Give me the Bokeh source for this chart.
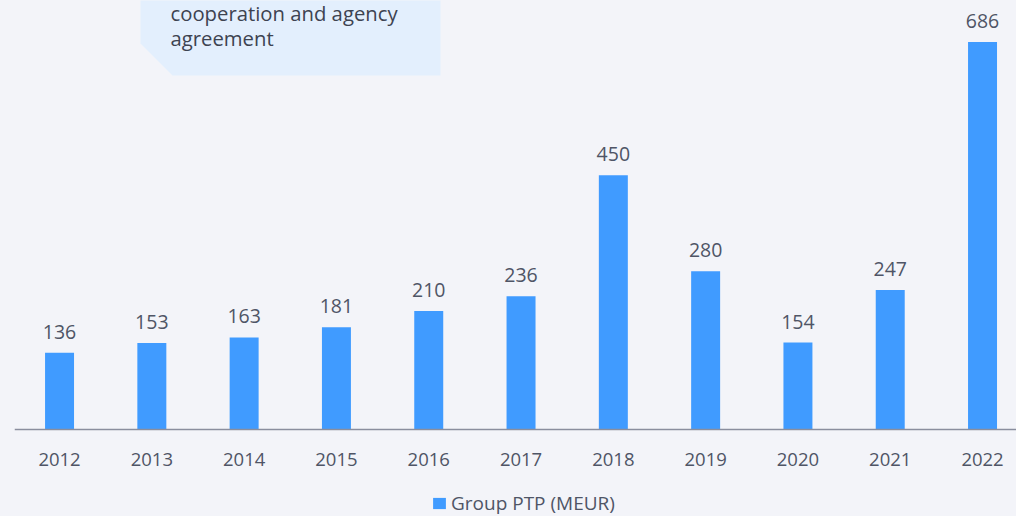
from bokeh.plotting import figure
from bokeh.models import (ColumnDataSource, Legend, LegendItem, Span,
                          GlobalInlineStyleSheet)
from bokeh.core.properties import value
from bokeh.embed import file_html
from bokeh.resources import INLINE

# ---- data ----
years = [2012, 2013, 2014, 2015, 2016, 2017, 2018, 2019, 2020, 2021, 2022]
ptp = [136, 153, 163, 181, 210, 236, 450, 280, 154, 247, 686]
value_labels = [str(v) for v in ptp]
year_labels = [str(y) for y in years]
series_name = "Group PTP (MEUR)"
callout_lines = ["cooperation and agency", "agreement"]

# ---- style ----
BG = "#f3f4f9"
BLUE = "#409bff"
TEXT = "#4f5566"
CALLOUT_BG = "#e3effd"
AXIS = "#8a8e9e"
FONT = "Open Sans"

W, H = 1016, 516
LEFT = 14
AXIS_PX = 429                      # pixel row of the zero line
X0, X1 = 2011.512, 2022.368
Y1 = 759.5
PPU = AXIS_PX / Y1                 # pixels per unit
Y0 = -(H - AXIS_PX) / PPU

src = ColumnDataSource(dict(year=years, ptp=ptp, label=value_labels,
                            ylab=year_labels, zero=[0] * len(years)))

p = figure(width=W, height=H, x_range=(X0, X1), y_range=(Y0, Y1),
           output_backend="svg", toolbar_location=None,
           x_axis_location=None, y_axis_location=None,
           min_border_left=LEFT, min_border_right=0, min_border_top=0,
           min_border_bottom=0, background_fill_color=BG,
           border_fill_color=BG, outline_line_color=None)
p.stylesheets = [GlobalInlineStyleSheet(
    css="html,body{margin:0!important;padding:0;background:#f3f4f9;overflow:hidden;}")]
p.xgrid.visible = False
p.ygrid.visible = False

# helpers for decorative callout (pixel -> data)
fw = W - LEFT
def dx(px):
    return X0 + (px - LEFT) * (X1 - X0) / fw
def dy(py):
    return Y1 - py / PPU

# callout box with cut corner
p.patch([dx(140), dx(440), dx(440), dx(172), dx(140)],
        [dy(-2), dy(-2), dy(75), dy(75), dy(43)],
        fill_color=CALLOUT_BG, line_color=None)
p.text(x=[dx(170), dx(170)], y=[dy(12), dy(37)], text=callout_lines,
       text_font=value(FONT), text_font_size="20.3px", text_color="#3d4351",
       text_align="left", text_baseline="alphabetic")

bars = p.vbar(x="year", top="ptp", width=0.314, source=src,
              fill_color=BLUE, line_color=None)
p.text(x="year", y="ptp", text="label", source=src, y_offset=-21,
       text_align="center", text_baseline="alphabetic",
       text_font=value(FONT), text_font_size="19.5px", text_color=TEXT)

# category axis: zero line + year labels
p.add_layout(Span(location=0, dimension="width", line_color=AXIS,
                  line_width=1.5))
p.text(x="year", y="zero", text="ylab", source=src, y_offset=30,
       text_align="center", text_baseline="alphabetic",
       text_font=value(FONT), text_font_size="18.5px", text_color=TEXT)

legend = Legend(items=[LegendItem(label=series_name, renderers=[bars])],
                location=(417, 0), orientation="horizontal",
                glyph_width=16, glyph_height=14, label_standoff=4,
                label_height=20, padding=0, margin=0,
                border_line_color=None, background_fill_alpha=0,
                label_text_font=FONT, label_text_font_size="19px",
                label_text_color=TEXT)
p.add_layout(legend)

open("out.html", "w").write(file_html(p, INLINE))
